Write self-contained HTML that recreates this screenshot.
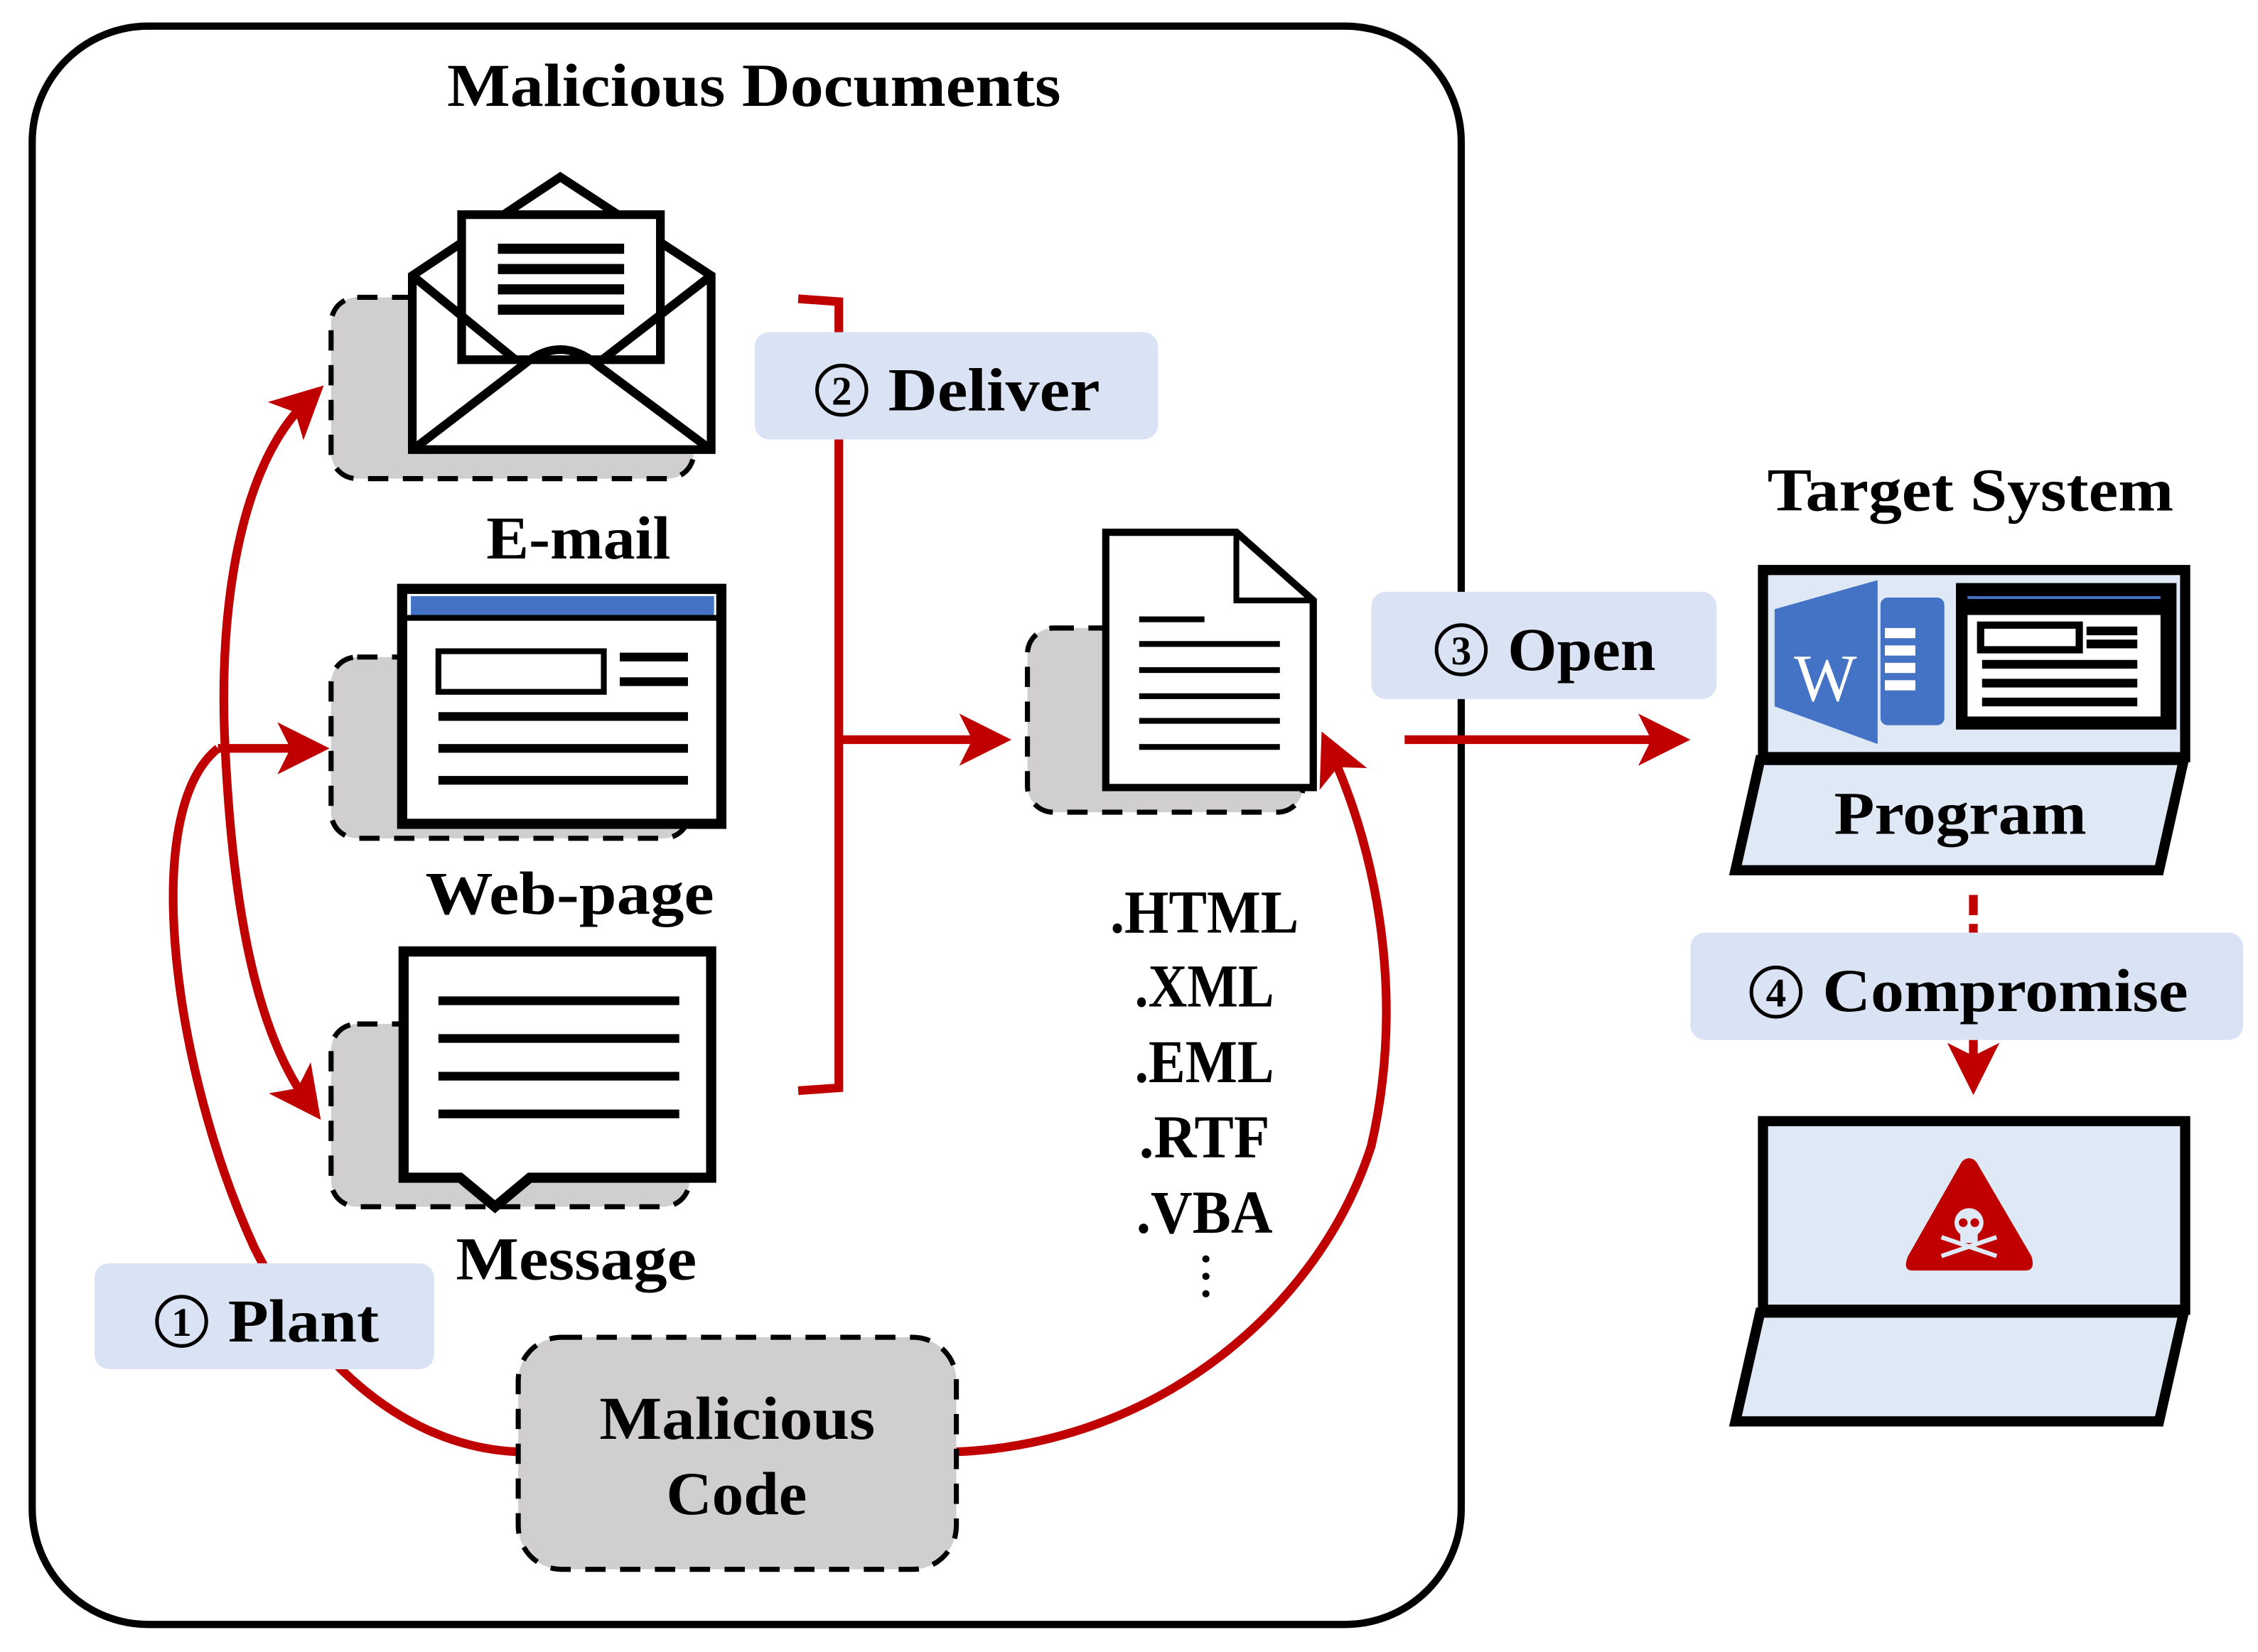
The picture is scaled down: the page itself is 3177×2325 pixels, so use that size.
<!DOCTYPE html>
<html><head><meta charset="utf-8"><style>
html,body{margin:0;padding:0;background:#fff;}
svg{display:block;}
text{font-family:"Liberation Serif",serif;font-weight:bold;fill:#000;}
</style></head><body>
<svg width="3177" height="2325" viewBox="0 0 1556 1139" xmlns="http://www.w3.org/2000/svg">
<defs>
<marker id="ar" markerWidth="6" markerHeight="6" refX="3.5" refY="3" orient="auto" markerUnits="strokeWidth">
<path d="M0,0 L6,3 L0,6 L1.5,3 Z" fill="#c00000"/></marker>
</defs>
<rect x="22" y="18" width="985" height="1102" rx="80" fill="#fff" stroke="#000" stroke-width="5"/>
<text x="308" y="73" font-size="42" textLength="423" lengthAdjust="spacingAndGlyphs">Malicious Documents</text>

<!-- Email -->
<rect x="228" y="205" width="250" height="125" rx="18" fill="#d0cece" stroke="#000" stroke-width="3.5" stroke-dasharray="14,10"/>
<path d="M284,190 L386,122 L490,190 L490,310 L284,310 Z" fill="#fff" stroke="#000" stroke-width="6"/>
<rect x="318" y="148" width="137" height="100" fill="#fff" stroke="#000" stroke-width="6"/>
<path d="M284,190 L355,248 M490,190 L415,248 M287,308 L360,252 Q386,230 412,252 L487,308" fill="none" stroke="#000" stroke-width="6"/>
<g fill="#000"><rect x="343" y="168" width="87" height="7"/><rect x="343" y="182" width="87" height="7"/><rect x="343" y="196" width="87" height="7"/><rect x="343" y="210" width="87" height="7"/></g>
<text x="335" y="385" font-size="42" textLength="127" lengthAdjust="spacingAndGlyphs">E-mail</text>

<!-- Web page -->
<rect x="228" y="453" width="247" height="125" rx="18" fill="#d0cece" stroke="#000" stroke-width="3.5" stroke-dasharray="14,10"/>
<rect x="277" y="406" width="220" height="162" fill="#fff" stroke="#000" stroke-width="7"/>
<rect x="283" y="411" width="209" height="13" fill="#4472c4"/>
<rect x="280" y="424" width="214" height="4" fill="#000"/>
<rect x="302" y="449" width="114" height="28" fill="#fff" stroke="#000" stroke-width="4"/>
<g fill="#000"><rect x="427" y="450" width="47" height="6"/><rect x="427" y="467" width="47" height="6"/><rect x="302" y="491" width="172" height="6"/><rect x="302" y="513" width="172" height="6"/><rect x="302" y="535" width="172" height="6"/></g>
<text x="293" y="630" font-size="42" textLength="199" lengthAdjust="spacingAndGlyphs">Web-page</text>

<!-- Message -->
<rect x="228" y="706" width="247" height="126" rx="18" fill="#d0cece" stroke="#000" stroke-width="3.5" stroke-dasharray="14,10"/>
<path d="M278,656 L490,656 L490,812 L365,812 L341,832 L317,812 L278,812 Z" fill="#fff" stroke="#000" stroke-width="7"/>
<g fill="#000"><rect x="302" y="687" width="166" height="6"/><rect x="302" y="713" width="166" height="6"/><rect x="302" y="739" width="166" height="6"/><rect x="302" y="765" width="166" height="6"/></g>
<text x="314" y="882" font-size="42" textLength="166" lengthAdjust="spacingAndGlyphs">Message</text>

<!-- Deliver bracket -->
<path d="M550,206 L578,208 L578,750 L550,752" fill="none" stroke="#c00000" stroke-width="6"/>
<line x1="578" y1="510" x2="682" y2="510" stroke="#c00000" stroke-width="6" marker-end="url(#ar)"/>
<rect x="520" y="229" width="278" height="74" rx="10" fill="#dae3f3"/>
<circle cx="580" cy="269" r="17" fill="none" stroke="#000" stroke-width="2.5"/>
<text x="580" y="279" font-size="28" text-anchor="middle">2</text>
<text x="612" y="283" font-size="42" textLength="146" lengthAdjust="spacingAndGlyphs">Deliver</text>

<!-- Document -->
<rect x="708" y="433" width="190" height="127" rx="18" fill="#d0cece" stroke="#000" stroke-width="3.5" stroke-dasharray="14,10"/>
<path d="M762,367 L852,367 L905,414 L905,543 L762,543 Z" fill="#fff" stroke="#000" stroke-width="5"/>
<path d="M852,367 L852,414 L905,414" fill="none" stroke="#000" stroke-width="4"/>
<g fill="#000"><rect x="785" y="425" width="45" height="4"/><rect x="785" y="442" width="97" height="4"/><rect x="785" y="460" width="97" height="4"/><rect x="785" y="478" width="97" height="4"/><rect x="785" y="495" width="97" height="4"/><rect x="785" y="513" width="97" height="4"/></g>
<g font-size="42">
<text x="765" y="643" textLength="130" lengthAdjust="spacingAndGlyphs">.HTML</text>
<text x="782" y="694" textLength="96" lengthAdjust="spacingAndGlyphs">.XML</text>
<text x="782" y="746" textLength="96" lengthAdjust="spacingAndGlyphs">.EML</text>
<text x="785" y="798" textLength="90" lengthAdjust="spacingAndGlyphs">.RTF</text>
<text x="783" y="850" textLength="94" lengthAdjust="spacingAndGlyphs">.VBA</text></g>
<g fill="#000"><circle cx="831" cy="868" r="2.5"/><circle cx="831" cy="880" r="2.5"/><circle cx="831" cy="892" r="2.5"/></g>

<!-- Plant curves -->
<path d="M357,1001 C280,998 215,940 175,860 C120,740 95,560 150,516" fill="none" stroke="#c00000" stroke-width="6"/>
<line x1="150" y1="516" x2="212" y2="516" stroke="#c00000" stroke-width="6" marker-end="url(#ar)"/>
<path d="M155,516 C150,420 165,320 212,276" fill="none" stroke="#c00000" stroke-width="6" marker-end="url(#ar)"/>
<path d="M155,516 C160,620 175,710 212,760" fill="none" stroke="#c00000" stroke-width="6" marker-end="url(#ar)"/>
<path d="M659,1001 C800,995 910,900 945,790 C968,690 950,590 917,518" fill="none" stroke="#c00000" stroke-width="6" marker-end="url(#ar)"/>
<rect x="65" y="871" width="234" height="73" rx="10" fill="#dae3f3"/>
<circle cx="125" cy="911" r="17" fill="none" stroke="#000" stroke-width="2.5"/>
<text x="125" y="921" font-size="28" text-anchor="middle">1</text>
<text x="157" y="925" font-size="42" textLength="104" lengthAdjust="spacingAndGlyphs">Plant</text>

<rect x="357" y="922" width="302" height="160" rx="30" fill="#d0cece" stroke="#000" stroke-width="3.5" stroke-dasharray="14,10"/>
<text x="413" y="992" font-size="42" textLength="190" lengthAdjust="spacingAndGlyphs">Malicious</text>
<text x="459" y="1044" font-size="42" textLength="97" lengthAdjust="spacingAndGlyphs">Code</text>

<!-- Open -->
<rect x="945" y="408" width="238" height="74" rx="10" fill="#dae3f3"/>
<circle cx="1007" cy="448" r="17" fill="none" stroke="#000" stroke-width="2.5"/>
<text x="1007" y="458" font-size="28" text-anchor="middle">3</text>
<text x="1039" y="462" font-size="42" textLength="102" lengthAdjust="spacingAndGlyphs">Open</text>
<line x1="968" y1="510" x2="1150" y2="510" stroke="#c00000" stroke-width="6" marker-end="url(#ar)"/>

<!-- Target system -->
<text x="1218" y="352" font-size="42" textLength="280" lengthAdjust="spacingAndGlyphs">Target System</text>
<rect x="1215" y="393" width="291" height="129" fill="#dee9f5" stroke="#000" stroke-width="7"/>
<path d="M1223,420 L1294,400 L1294,513 L1223,487 Z" fill="#4472c4"/>
<rect x="1296" y="412" width="44" height="88" rx="5" fill="#4472c4"/>
<g fill="#fff"><rect x="1299" y="433" width="21" height="7"/><rect x="1299" y="445" width="21" height="7"/><rect x="1299" y="457" width="21" height="7"/><rect x="1299" y="469" width="21" height="7"/></g>
<text x="1258" y="483" font-size="46" text-anchor="middle" style="fill:#fff;font-weight:normal">W</text>
<rect x="1348" y="402" width="152" height="101" fill="#000"/>
<rect x="1356" y="411" width="133" height="2" fill="#4472c4"/>
<rect x="1356" y="424" width="133" height="70" fill="#fff"/>
<rect x="1365" y="431" width="68" height="17" fill="none" stroke="#000" stroke-width="5"/>
<g fill="#000"><rect x="1438" y="432" width="35" height="6"/><rect x="1438" y="441" width="35" height="6"/><rect x="1366" y="455" width="107" height="6"/><rect x="1366" y="468" width="107" height="6"/><rect x="1366" y="481" width="107" height="6"/></g>
<path d="M1213,524 L1505,524 L1488,600 L1196,600 Z" fill="#dee9f5" stroke="#000" stroke-width="7"/>
<text x="1264" y="575" font-size="42" textLength="174" lengthAdjust="spacingAndGlyphs">Program</text>

<line x1="1360" y1="617" x2="1360" y2="643" stroke="#c00000" stroke-width="6" stroke-dasharray="14,6"/>
<line x1="1360" y1="717" x2="1360" y2="740" stroke="#c00000" stroke-width="6" marker-end="url(#ar)"/>
<rect x="1165" y="643" width="381" height="74" rx="10" fill="#dae3f3"/>
<circle cx="1224" cy="684" r="17" fill="none" stroke="#000" stroke-width="2.5"/>
<text x="1224" y="694" font-size="28" text-anchor="middle">4</text>
<text x="1256" y="697" font-size="42" textLength="252" lengthAdjust="spacingAndGlyphs">Compromise</text>

<rect x="1215" y="773" width="291" height="130" fill="#dee9f5" stroke="#000" stroke-width="7"/>
<path d="M1213,905 L1505,905 L1488,980 L1196,980 Z" fill="#dee9f5" stroke="#000" stroke-width="7"/>
<path d="M1352,801 Q1357,796 1362,801 L1400,866 Q1403,876 1396,876 L1318,876 Q1311,876 1315,866 Z" fill="#c00000"/>
<g fill="#dee9f5">
<circle cx="1357" cy="843" r="10"/><rect x="1351" y="848" width="12" height="9"/>
<path d="M1338,853 L1376,866 M1338,866 L1376,853" stroke="#dee9f5" stroke-width="3"/>
</g>
<g fill="#c00000"><circle cx="1353" cy="843" r="3"/><circle cx="1361" cy="843" r="3"/></g>
</svg>
</body></html>
